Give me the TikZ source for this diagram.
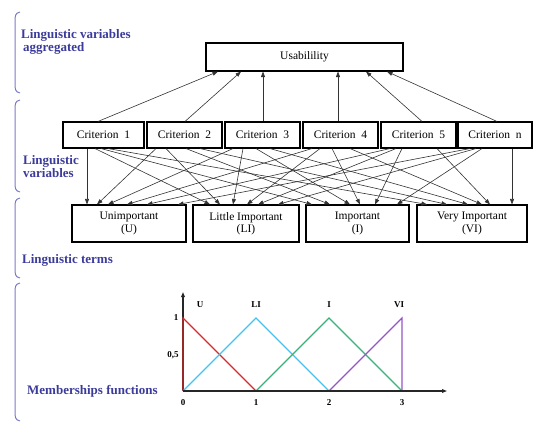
\documentclass[tikz,border=0pt]{standalone}
\usepackage{fontspec}
\setmainfont{Liberation Serif}
\usetikzlibrary{arrows.meta}
\definecolor{lblue}{HTML}{3B3B9B}
\definecolor{bracec}{HTML}{7B7BC8}
\definecolor{cU}{HTML}{D42A2A}
\definecolor{cLI}{HTML}{45C3F0}
\definecolor{cI}{HTML}{35B277}
\definecolor{cVI}{HTML}{9455C4}
\tikzset{
  box/.style={draw=black, line width=1.1pt, fill=white, inner sep=0pt, align=center, font=\fontsize{11.5}{12.5}\selectfont},
  conn/.style={draw=black!80, line width=0.6pt, -{Triangle[length=5.5pt,width=4pt]}},
  sidelabel/.style={text=lblue, font=\fontsize{13}{14}\selectfont\bfseries, anchor=west, align=left, inner sep=0pt},
  bracepath/.style={draw=bracec, line width=1pt},
  axis/.style={draw=black!85, line width=1.2pt, -{Triangle[length=5pt,width=3.6pt]}},
  mf/.style={line width=1.2pt},
  ticklab/.style={font=\fontsize{9}{10}\selectfont\bfseries, inner sep=0pt}
}
\begin{document}
\begin{tikzpicture}[x=1pt,y=-1pt]
\useasboundingbox (0,0) rectangle (533,421);
% braces
\draw[bracepath] (20,12) .. controls (15,13) and (15,16) .. (15,22) -- (15,83) .. controls (15,89) and (15,92) .. (20,93);
\draw[bracepath] (20,100) .. controls (15,101) and (15,104) .. (15,110) -- (15,182) .. controls (15,188) and (15,191) .. (20,192);
\draw[bracepath] (20,198) .. controls (15,199) and (15,202) .. (15,208) -- (15,268) .. controls (15,274) and (15,277) .. (20,278);
\draw[bracepath] (20,283) .. controls (15,284) and (15,287) .. (15,293) -- (15,411) .. controls (15,417) and (15,420) .. (20,421);
% side labels
\node[sidelabel] (l1) at (21,42) {Linguistic variables\\[-1pt]\hspace*{2pt}aggregated};
\node[sidelabel] (l2) at (23,167) {Linguistic\\[-1pt]variables};
\node[sidelabel] (l3) at (22,260) {Linguistic terms};
\node[sidelabel] (l4) at (27,391) {Memberships functions};
% top
\node[box, minimum width=197pt, minimum height=28pt] (us) at (304.5,57) {Usabilility};
% criteria
\node[box, minimum width=81pt, minimum height=26pt] (c1) at (103.5,135) {Criterion\ \ 1};
\node[box, minimum width=75pt, minimum height=26pt] (c2) at (184.5,135) {Criterion\ \ 2};
\node[box, minimum width=75pt, minimum height=26pt] (c3) at (262.5,135) {Criterion\ \ 3};
\node[box, minimum width=75pt, minimum height=26pt] (c4) at (340.5,135) {Criterion\ \ 4};
\node[box, minimum width=75pt, minimum height=26pt] (c5) at (418.5,135) {Criterion\ \ 5};
\node[box, minimum width=74pt, minimum height=26pt] (c6) at (495,135) {Criterion\ \ n};
% terms
\node[box, minimum width=114pt, minimum height=37pt] (tU) at (129,223.5) {Unimportant\\(U)};
\node[box, minimum width=106pt, minimum height=37pt] (tLI) at (246,223.5) {Little Important\\(LI)};
\node[box, minimum width=103pt, minimum height=37pt] (tI) at (357.5,223.5) {Important\\(I)};
\node[box, minimum width=110pt, minimum height=37pt] (tVI) at (472,223.5) {Very Important\\(VI)};
% up arrows
\foreach \c/\sx/\ex in {c1/98/218, c2/185/241, c3/263/263, c4/338/338, c5/422/366, c6/497/387}
  \draw[conn] (\c.north -| \sx,0) -- (us.south -| \ex,0);
% down arrows: criterion, start x, term, end x
\foreach \c/\sx/\t/\ex in {
  c1/87/tU/87, c1/95/tLI/210, c1/101/tI/312, c1/108/tVI/427,
  c2/156/tU/97, c2/166/tLI/220, c2/186/tI/330, c2/200/tVI/447,
  c3/233/tU/108, c3/243/tLI/233, c3/256/tI/350, c3/270/tVI/468,
  c4/312/tU/127, c4/320/tLI/247, c4/332/tI/360, c4/350/tVI/482,
  c5/390/tU/147, c5/396/tLI/258, c5/402/tI/375, c5/437/tVI/490,
  c6/470/tU/178, c6/476/tLI/278, c6/482/tI/397, c6/512/tVI/512}
  \draw[conn] (\c.south -| \sx,0) -- (\t.north -| \ex,0);
% membership chart
\coordinate (o) at (183,391);
\coordinate (xe) at (447,391);
\coordinate (ye) at (183,292);
\draw[axis] (o) -- (ye);
\draw[mf, cU] (183,391) -- (183,318) -- (256,391);
\draw[mf, cLI] (183,391) -- (256,318) -- (329,391);
\draw[mf, cI] (256,391) -- (329,318) -- (402,391);
\draw[mf, cVI] (329,391) -- (402,318) -- (402,391);
\draw[axis] (o) -- (xe);
\node[ticklab] (tk0) at (183,403) {0};
\node[ticklab] (tk1) at (256,403) {1};
\node[ticklab] (tk2) at (329,403) {2};
\node[ticklab] (tk3) at (402,403) {3};
\node[ticklab] (ty1) at (176,318) {1};
\node[ticklab] (ty5) at (173,355) {0,5};
\node[ticklab] (nU) at (200,305) {U};
\node[ticklab] (nLI) at (256,305) {LI};
\node[ticklab] (nI) at (329,305) {I};
\node[ticklab] (nVI) at (399,305) {VI};
\end{tikzpicture}
\end{document}
